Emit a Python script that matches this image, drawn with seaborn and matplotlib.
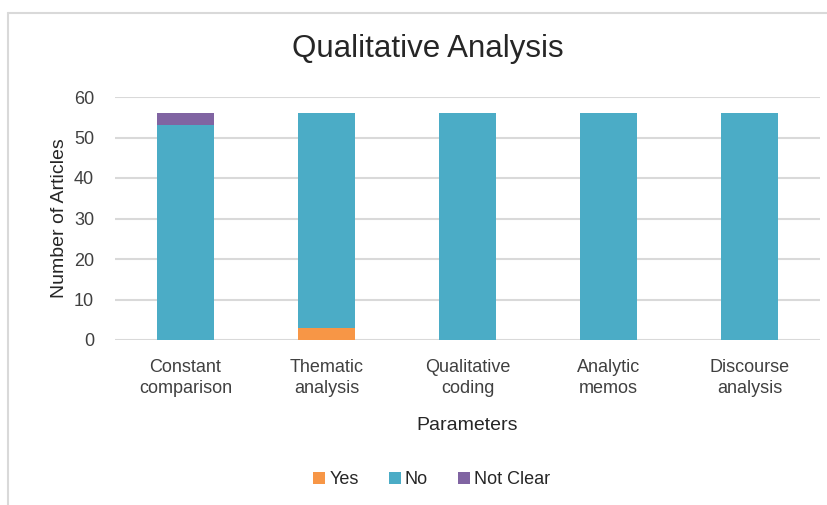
import matplotlib
matplotlib.use("Agg")
import matplotlib.pyplot as plt
import seaborn as sns
import pandas as pd
import numpy as np
from matplotlib.lines import Line2D

categories = ["Constant\ncomparison", "Thematic\nanalysis", "Qualitative\ncoding", "Analytic\nmemos", "Discourse\nanalysis"]
yes = [0, 3, 0, 0, 0]
no = [53, 53, 56, 56, 56]
not_clear = [3, 0, 0, 0, 0]
series_names = ["Yes", "No", "Not Clear"]
colors = {"Yes": "#F79646", "No": "#4BACC6", "Not Clear": "#8064A2"}

sns.set_theme(style="white")
plt.rcParams["font.family"] = ["Liberation Sans", "DejaVu Sans"]

fig = plt.figure(figsize=(8.28, 5.05), dpi=100)
ax = fig.add_axes([115/828, 1-340/505, (820-115)/828, (340-97)/505])

df = pd.DataFrame({"cat": categories, "Yes": yes, "No": no, "Not Clear": not_clear})
df["c_yes"] = df["Yes"]
df["c_no"] = df["Yes"] + df["No"]
df["c_nc"] = df["c_no"] + df["Not Clear"]

for col, name in [("c_nc", "Not Clear"), ("c_no", "No"), ("c_yes", "Yes")]:
    sns.barplot(data=df, x="cat", y=col, color=colors[name], width=0.405,
                saturation=1, ax=ax, linewidth=0, zorder=3)

ax.set_ylim(0, 60)
ax.set_yticks(range(0, 61, 10))
ax.set_xlim(-0.5, 4.5)
ax.yaxis.grid(True, color="#D9D9D9", linewidth=1.5, zorder=0)
ax.set_axisbelow(True)
for s in ax.spines.values():
    s.set_visible(False)
ax.tick_params(axis="x", length=0, labelsize=13, colors="#404040", pad=14)
ax.tick_params(axis="y", length=0, labelsize=13, colors="#404040", pad=15)
for lbl in ax.get_xticklabels():
    lbl.set_linespacing(1.3)
ax.set_xlabel("Parameters", fontsize=14, color="#262626", labelpad=14)
ax.set_ylabel("Number of Articles", fontsize=14, color="#262626", labelpad=4)

fig.text(428/828, 1-49/505, "Qualitative Analysis", ha="center", va="center",
         fontsize=22.5, color="#262626")

handles = [Line2D([0], [0], marker="s", linestyle="none", markersize=8,
                  markerfacecolor=colors[n], markeredgewidth=0) for n in series_names]
fig.legend(handles, series_names, loc="center", bbox_to_anchor=(432/828, 1-480/505),
           ncol=3, frameon=False, fontsize=13, handlelength=0.6, handletextpad=0.25,
           columnspacing=1.7, labelcolor="#262626")

# chart border (light gray, extending off-canvas on right and bottom)
fig.add_artist(Line2D([8/828, 1.0], [1-13/505, 1-13/505], transform=fig.transFigure,
                      color="#D9D9D9", linewidth=1.5))
fig.add_artist(Line2D([8/828, 8/828], [0, 1-13/505], transform=fig.transFigure,
                      color="#D9D9D9", linewidth=1.5))

fig.savefig("out.png", dpi=100)
